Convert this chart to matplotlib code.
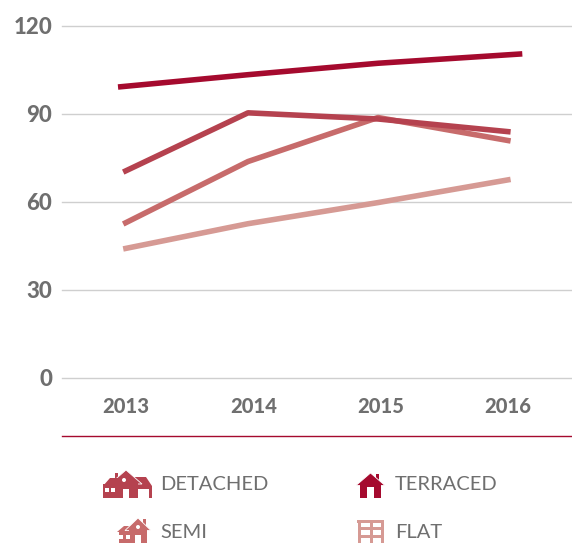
import matplotlib
matplotlib.use('Agg')
import matplotlib.pyplot as plt
from matplotlib.patches import Polygon, Rectangle

plt.rcParams['font.family'] = ['Lato', 'DejaVu Sans']

# values, the lines do not all start and end on the same x
terraced_x = [2013, 2014, 2015, 2016.11]
terraced = [99.2, 103.4, 107.3, 110.5]
others_x = [2013.04, 2014, 2015, 2016.02]
detached = [70.2, 90.4, 88.3, 83.9]
semi = [52.5, 73.8, 88.8, 80.8]
flat = [44, 52.6, 59.8, 67.7]

y_ticks = [0, 30, 60, 90, 120]
year_ticks = [2013.06, 2014.045, 2015.02, 2016]
year_labels = ['2013', '2014', '2015', '2016']

RED = '#a50a2e'
DET = '#b5424f'
SEM = '#c76b6b'
FLT = '#d69a94'
GREY = '#6f6f6f'

W, H = 572, 543
fig = plt.figure(figsize=(W / 100, H / 100), dpi=100)

# axes box is placed in pixels: x 62-572, y 378 (zero) up to 26 (120)
ax = fig.add_axes([62 / W, (H - 378) / H, 510 / W, 352 / H])
ax.set_xlim(2013 - 56 / 130, 2013 + 454 / 130)
ax.set_ylim(0, 120)
ax.set_yticks(y_ticks)
ax.set_xticks(year_ticks)
ax.set_xticklabels(year_labels)
ax.grid(axis='y', color='#cfcfcf', linewidth=1)
ax.set_axisbelow(True)
for g in ax.get_ygridlines():
    g.set_clip_on(False)  # otherwise the 0 and 120 lines are cut in half
for s in ax.spines.values():
    s.set_visible(False)
ax.tick_params(length=0)
ax.tick_params(axis='y', pad=7, labelsize=16, labelcolor=GREY)
ax.tick_params(axis='x', pad=14, labelsize=14.5, labelcolor=GREY)
for t in ax.get_xticklabels() + ax.get_yticklabels():
    t.set_fontweight('black')

lw = 4
ax.plot(terraced_x, terraced, color=RED, linewidth=lw, solid_capstyle='butt')
ax.plot(others_x, flat, color=FLT, linewidth=lw, solid_capstyle='butt')
ax.plot(others_x, semi, color=SEM, linewidth=lw, solid_capstyle='butt')
ax.plot(others_x, detached, color=DET, linewidth=lw, solid_capstyle='butt')

# overlay in pixel coordinates for the rule and the legend
ov = fig.add_axes([0, 0, 1, 1])
ov.set_xlim(0, W)
ov.set_ylim(H, 0)
ov.axis('off')
ov.plot([62, 572], [436, 436], color=RED, linewidth=1)


def house(x, y, w, h, color, chimney=True):
    # x, y is the top left of the icon
    mid = x + w / 2
    eave = y + h * 0.5
    if chimney:
        ov.add_patch(Rectangle((x + w * 0.68, y + h * 0.04), w * 0.13, h * 0.3, fc=color, ec='none'))
    ov.add_patch(Polygon([(x, eave), (mid, y), (x + w, eave)], closed=True, fc=color, ec='white', lw=0.6))
    ov.add_patch(Rectangle((x + w * 0.14, eave - 1), w * 0.72, y + h - eave + 1, fc=color, ec='none'))


# detached
ov.add_patch(Polygon([(134, 477), (146, 477), (152, 486), (152, 498), (149, 498),
                      (149, 489), (137, 489), (137, 498), (134, 498)], closed=True, fc=DET, ec='none'))
ov.add_patch(Rectangle((103, 484), 16, 14, fc=DET, ec='none'))
ov.add_patch(Rectangle((115, 473), 3, 8, fc=DET, ec='none'))
house(110, 470, 32, 28, DET, chimney=False)
ov.add_patch(Polygon([(103, 486), (110, 478), (118, 478), (118, 486)], closed=True, fc=DET, ec='none'))
ov.add_patch(Rectangle((105, 488), 4, 4, fc='white', ec='none'))
ov.add_patch(Rectangle((111, 488), 4, 4, fc='white', ec='none'))
ov.add_patch(Rectangle((123, 489), 6, 9, fc='white', ec='none'))
ov.add_patch(plt.Circle((124, 480), 2, fc='white', ec='none'))

# semi
ov.add_patch(Rectangle((119, 530), 16, 13, fc=SEM, ec='none'))
ov.add_patch(Polygon([(117, 532), (124, 526), (132, 526), (132, 532)], closed=True, fc=SEM, ec='none'))
house(125, 518, 26, 25, SEM)
ov.add_patch(Rectangle((119, 535), 4, 4, fc='white', ec='none'))
ov.add_patch(Rectangle((126, 535), 4, 4, fc='white', ec='none'))
ov.add_patch(Rectangle((135, 535), 6, 8, fc='white', ec='none'))
ov.add_patch(plt.Circle((138, 527), 2, fc='white', ec='none'))

# terraced
house(356, 473, 29, 25, RED)
ov.add_patch(Rectangle((367, 487), 7, 11, fc='white', ec='none'))

# flat
ov.add_patch(Rectangle((357, 520), 27, 2.5, fc=FLT, ec='none'))
for lx in [358, 369.5, 381]:
    ov.add_patch(Rectangle((lx, 520), 3, 23, fc=FLT, ec='none'))
for ly in [527, 535]:
    ov.add_patch(Rectangle((358, ly), 26, 2.5, fc=FLT, ec='none'))

for x, y, label in [(160, 485, 'DETACHED'), (160, 532, 'SEMI'), (395, 485, 'TERRACED'), (395, 532, 'FLAT')]:
    ov.text(x, y, label, color=GREY, fontsize=14.5, va='center', ha='left')

fig.savefig('out.png', dpi=100)
